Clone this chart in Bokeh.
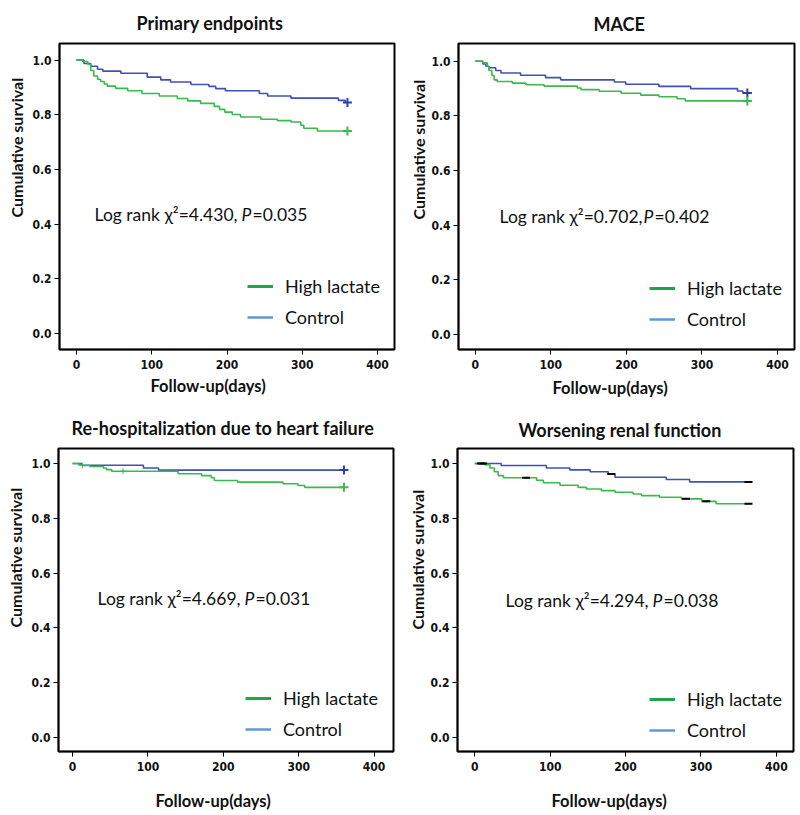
from bokeh.plotting import figure
from bokeh.models import (Range1d, FixedTicker, PrintfTickFormatter, Label,
                          Legend, LegendItem, Title)
from bokeh.layouts import row, column
from bokeh.embed import file_html
from bokeh.resources import INLINE

# ---------------- data ----------------
groups = ["High lactate", "Control"]
x_ticks = [0, 100, 200, 300, 400]
y_ticks = [0.0, 0.2, 0.4, 0.6, 0.8, 1.0]

# Primary endpoints
pe_hl_t = [0, 8, 15, 19, 23, 28, 32, 37, 41, 52, 68, 87, 110, 134, 148, 165, 183,
           190, 197, 207, 218, 245, 267, 285, 298, 302, 320, 360]
pe_hl_s = [1.0, 0.995, 0.985, 0.962, 0.942, 0.93, 0.922, 0.913, 0.905, 0.897, 0.888,
           0.878, 0.869, 0.86, 0.851, 0.842, 0.831, 0.82, 0.81, 0.801, 0.792, 0.784,
           0.779, 0.774, 0.762, 0.751, 0.741, 0.741]
pe_ct_t = [0, 10, 19, 28, 35, 59, 94, 112, 125, 152, 176, 185, 198, 243, 254, 285,
           348, 357, 360]
pe_ct_s = [1.0, 0.988, 0.978, 0.967, 0.96, 0.952, 0.938, 0.928, 0.92, 0.911, 0.904,
           0.896, 0.888, 0.878, 0.869, 0.861, 0.853, 0.845, 0.845]

# MACE
ma_hl_t = [0, 10, 16, 18, 22, 25, 29, 49, 67, 91, 135, 140, 164, 193, 219, 243, 267,
           278, 360]
ma_hl_s = [1.0, 0.994, 0.981, 0.966, 0.948, 0.932, 0.926, 0.92, 0.914, 0.909, 0.902,
           0.896, 0.89, 0.883, 0.876, 0.87, 0.863, 0.855, 0.855]
ma_ct_t = [0, 10, 14, 18, 27, 34, 60, 93, 113, 184, 199, 243, 285, 347, 354, 360]
ma_ct_s = [1.0, 0.99, 0.982, 0.976, 0.966, 0.957, 0.949, 0.94, 0.932, 0.924, 0.916,
           0.908, 0.9, 0.891, 0.884, 0.884]

# Re-hospitalization due to heart failure
rh_hl_t = [0, 8, 12, 23, 41, 45, 52, 140, 171, 184, 188, 219, 279, 299, 308, 360]
rh_hl_s = [1.0, 0.996, 0.993, 0.989, 0.984, 0.978, 0.972, 0.963, 0.956, 0.948, 0.938,
           0.932, 0.926, 0.92, 0.913, 0.913]
rh_ct_t = [0, 12, 94, 114, 360]
rh_ct_s = [1.0, 0.994, 0.984, 0.976, 0.976]
rh_hl_cens = [13, 67]

# Worsening renal function
wr_hl_t = [0, 13, 20, 26, 31, 38, 82, 91, 113, 137, 148, 168, 186, 210, 221, 245, 274,
           301, 320, 363]
wr_hl_s = [1.0, 0.996, 0.984, 0.97, 0.956, 0.948, 0.939, 0.93, 0.921, 0.913, 0.907,
           0.901, 0.895, 0.889, 0.883, 0.877, 0.871, 0.862, 0.853, 0.853]
wr_ct_t = [0, 35, 95, 126, 153, 177, 186, 254, 285, 363]
wr_ct_s = [1.0, 0.993, 0.984, 0.977, 0.97, 0.962, 0.95, 0.942, 0.933, 0.933]
wr_hl_cens = [11, 68, 280, 307, 363]
wr_ct_cens = [8, 181, 363]

titles = ["Primary endpoints", "MACE", "Re-hospitalization due to heart failure",
          "Worsening renal function"]
stat_prefix = ["Log rank \u03c7\u00b2=4.430,", "Log rank \u03c7\u00b2=0.702,",
               "Log rank \u03c7\u00b2=4.669,", "Log rank \u03c7\u00b2=4.294,"]
stat_p = ["=0.035", "=0.402", "=0.031", "=0.038"]
x_label = "Follow-up(days)"
y_label = "Cumulative survival"

# ---------------- styling ----------------
GREEN = "#3cb94c"
BLUE = "#4051b5"
CROSS_BLUE = "#2f3fa6"
LEG_GREEN = "#1ea64a"
LEG_BLUE = "#5b9bd5"
TXT = "#111111"
SANS = "Lato"
NARROW = "Liberation Sans Narrow, DejaVu Sans Condensed, sans-serif"
NAN = float("nan")


def surv_at(ts, ss, t):
    val = ss[0]
    for ti, si in zip(ts, ss):
        if ti <= t:
            val = si
    return val


def panel(idx, hl_t, hl_s, ct_t, ct_s, fw, fh, borders, xr, yr, pos,
          cens_style="cross", hl_cens=None, ct_cens=None):
    bl, br, bt, bb = borders
    p = figure(frame_width=fw, frame_height=fh, output_backend="svg",
               toolbar_location=None,
               x_range=Range1d(*xr), y_range=Range1d(*yr),
               min_border_left=bl, min_border_right=br, min_border_top=bt,
               min_border_bottom=bb)
    p.background_fill_color = "white"
    p.border_fill_color = "white"
    p.outline_line_color = "black"
    p.outline_line_width = 2
    p.xgrid.visible = False
    p.ygrid.visible = False
    for ax in (p.xaxis[0], p.yaxis[0]):
        ax.axis_line_color = "black"
        ax.axis_line_width = 1.5
        ax.major_tick_line_color = "black"
        ax.major_tick_out = 5
        ax.major_tick_in = 0
        ax.minor_tick_line_color = None
        ax.major_label_text_font = NARROW
        ax.major_label_text_font_style = "bold"
        ax.major_label_text_font_size = "12px"
        ax.major_label_text_color = TXT
    p.xaxis.ticker = FixedTicker(ticks=x_ticks)
    p.yaxis.ticker = FixedTicker(ticks=y_ticks)
    p.yaxis.formatter = PrintfTickFormatter(format="%.1f")
    p.xaxis.major_label_standoff = 5
    p.yaxis.major_label_standoff = 3

    # title and axis titles (offset Titles so they sit off-centre like the original)
    p.add_layout(Title(text=titles[idx], align="left", offset=pos["title_off"],
                       text_font=SANS, text_font_size="18px", text_font_style="bold",
                       text_color=TXT, standoff=pos["title_sd"]), "above")
    p.add_layout(Title(text=y_label, align="left", offset=pos["ylab_off"],
                       text_font=SANS, text_font_size="16px", text_font_style="bold",
                       text_color=TXT, standoff=pos["ylab_sd"]), "left")
    p.add_layout(Title(text=x_label, align="left", offset=pos["xlab_off"],
                       text_font=SANS, text_font_size="16.5px", text_font_style="bold",
                       text_color=TXT, standoff=pos["xlab_sd"]), "below")

    # curves
    p.step(ct_t, ct_s, mode="after", line_color=BLUE, line_width=1.6)
    p.step(hl_t, hl_s, mode="after", line_color=GREEN, line_width=1.6)

    if cens_style == "cross":
        p.scatter([ct_t[-1]], [ct_s[-1]], marker="cross", size=9, line_width=2,
                  line_color=CROSS_BLUE)
        p.scatter([hl_t[-1]], [hl_s[-1]], marker="cross", size=9, line_width=2,
                  line_color=GREEN)
        if hl_cens:
            p.scatter(hl_cens, [surv_at(hl_t, hl_s, c) for c in hl_cens],
                      marker="cross", size=6, line_width=1, line_color=GREEN)
    else:
        p.scatter(hl_cens, [surv_at(hl_t, hl_s, c) for c in hl_cens], marker="dash",
                  size=8, line_width=2, line_color="black")
        p.scatter(ct_cens, [surv_at(ct_t, ct_s, c) for c in ct_cens], marker="dash",
                  size=8, line_width=2, line_color="black")

    # legend swatches (colours differ from the curves, as in the original)
    r_hl = p.line([NAN], [NAN], line_color=LEG_GREEN, line_width=3)
    r_ct = p.line([NAN], [NAN], line_color=LEG_BLUE, line_width=2.5)
    leg = Legend(items=[LegendItem(label=groups[0], renderers=[r_hl]),
                        LegendItem(label=groups[1], renderers=[r_ct])],
                 location=pos["legend"], orientation="vertical",
                 label_text_font=SANS, label_text_font_size="18px",
                 label_text_color=TXT, glyph_width=26, glyph_height=20,
                 label_height=20, label_standoff=12, spacing=9, padding=0,
                 margin=0, border_line_color=None, background_fill_alpha=0)
    p.add_layout(leg, "center")

    def lab(text, xy, style, align):
        p.add_layout(Label(x=xy[0], y=xy[1], x_units="screen", y_units="screen",
                           text=text, text_font=SANS, text_font_size="17.5px",
                           text_font_style=style, text_color=TXT, text_align=align,
                           text_baseline="middle"))

    ax_, ay_ = pos["stat"]
    gap = pos.get("gap", 4)
    lab(stat_prefix[idx], (ax_ - gap, ay_), "normal", "right")
    lab("P", (ax_, ay_), "italic", "left")
    lab(stat_p[idx], (ax_ + 11, ay_), "normal", "left")
    return p


# row 1: frames at y 44..350 ; row 2: frames at y 449..752
p1 = panel(0, pe_hl_t, pe_hl_s, pe_ct_t, pe_ct_s, 335, 306, (54, 3, 36, 54),
           (-22.5, 422.5), (-0.0585, 1.061),
           dict(title_off=77, title_sd=19, ylab_off=132, ylab_sd=8,
                xlab_off=91, xlab_sd=4, stat=(182, 135), legend=(188, 21)))
p2 = panel(1, ma_hl_t, ma_hl_s, ma_ct_t, ma_ct_s, 336, 306, (61, 3, 36, 54),
           (-22.2, 422.4), (-0.055, 1.065),
           dict(title_off=135, title_sd=17, ylab_off=130, ylab_sd=1,
                xlab_off=94, xlab_sd=8, stat=(185, 133), legend=(191, 19), gap=1))
p3 = panel(2, rh_hl_t, rh_hl_s, rh_ct_t, rh_ct_s, 335, 303, (54, 3, 45, 60),
           (-18.6, 425.7), (-0.052, 1.055),
           dict(title_off=13, title_sd=20, ylab_off=124, ylab_sd=7,
                xlab_off=97, xlab_sd=31, stat=(186, 153), legend=(187, 11)),
           hl_cens=rh_hl_cens)
p4 = panel(3, wr_hl_t, wr_hl_s, wr_ct_t, wr_ct_s, 336, 303, (61, 3, 45, 60),
           (-22.9, 422.7), (-0.052, 1.055),
           dict(title_off=61, title_sd=16, ylab_off=122, ylab_sd=1,
                xlab_off=94, xlab_sd=31, stat=(195, 151), legend=(192, 10)),
           cens_style="dash", hl_cens=wr_hl_cens, ct_cens=wr_ct_cens)

layout = column(row(p1, p2, spacing=0), row(p3, p4, spacing=0), spacing=0)
open("out.html", "w").write(file_html(layout, INLINE))
